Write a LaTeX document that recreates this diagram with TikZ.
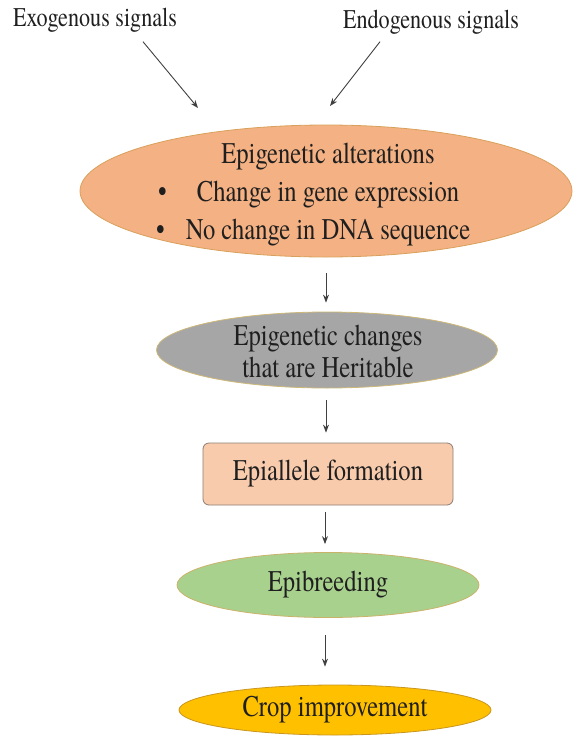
\documentclass[tikz,border=0pt]{standalone}
\usepackage{fontspec}
\setmainfont{TeX Gyre Termes}
\usepackage{graphicx}
\usepackage{xcolor}
\usepackage{tikz}
\usetikzlibrary{shapes.geometric, positioning, arrows.meta}

\definecolor{altfill}{HTML}{F4B183}
\definecolor{altline}{HTML}{D9A05B}
\definecolor{herfill}{HTML}{A6A6A6}
\definecolor{herline}{HTML}{CDB878}
\definecolor{epafill}{HTML}{F8CBAD}
\definecolor{epaline}{HTML}{8E7C72}
\definecolor{brdfill}{HTML}{A9D18E}
\definecolor{brdline}{HTML}{C9B36A}
\definecolor{cropfill}{HTML}{FFC000}
\definecolor{cropline}{HTML}{C8961E}

% narrow text, as in the figure
\newcommand{\narrow}[1]{\scalebox{0.82}[1]{#1}}

\begin{document}
\begin{tikzpicture}[x=1pt, y=-1pt, >={Stealth[length=8pt, width=6pt]},
    every node/.style={font=\fontsize{30}{38}\selectfont, text=black!88},
    blob/.style={ellipse, draw, line width=0.8pt, inner sep=0pt},
    txt/.style={align=center, inner sep=0pt},
    flow/.style={->, line width=0.9pt, draw=black!75},
    signal/.style={font=\fontsize{27}{32}\selectfont}]
    \useasboundingbox (0,0) rectangle (579,737);

    \node[signal] (exo) at (95,20) {\narrow{Exogenous signals}};
    \node[signal] (endo) at (431,22) {\narrow{Endogenous signals}};
    \coordinate (exoend) at (198,108);
    \coordinate (endoend) at (330,106);

    \node[blob, fill=altfill, draw=altline, minimum width=492pt, minimum height=132pt] (alter) at (326,191) {};
    \node[txt] (altertext) at (328,195) {\narrow{Epigenetic alterations}\\
        \llap{\narrow{\textbullet}\hspace{30pt}}\narrow{Change in gene expression}\\
        \llap{\narrow{\textbullet}\hspace{21pt}}\narrow{No change in DNA sequence}};
    \node[blob, fill=herfill, draw=herline, minimum width=341pt, minimum height=76pt] (herit) at (327,350) {};
    \node[txt, font=\fontsize{30}{32}\selectfont] (herittext) at (328,351) {\narrow{Epigenetic changes}\\ \narrow{that are Heritable}};
    \node[rectangle, rounded corners=6pt, draw=epaline, fill=epafill, line width=0.8pt,
          minimum width=250pt, minimum height=62pt] (epial) at (328,474) {\narrow{Epiallele formation}};
    \node[blob, fill=brdfill, draw=brdline, minimum width=302pt, minimum height=65pt] (breed) at (328,585) {\narrow{Epibreeding}};
    \node[blob, fill=cropfill, draw=cropline, minimum width=312pt, minimum height=50pt] (crop) at (335,710) {\narrow{Crop improvement}};

    \draw[flow] ([xshift=48pt, yshift=-6pt]exo.south) -- (exoend);
    \draw[flow] ([xshift=-51pt, yshift=-4pt]endo.south) -- (endoend);

    \path (alter.south) edge[flow, shorten <=16pt, shorten >=9pt] (alter.south |- herit.north)
          ([xshift=-1pt]herit.south) edge[flow, shorten <=12pt, shorten >=10pt] ([xshift=-1pt]herit.south |- epial.north)
          ([xshift=-3pt]epial.south) edge[flow, shorten <=7pt, shorten >=8pt] ([xshift=-3pt]epial.south |- breed.north)
          ([xshift=-3pt]breed.south) edge[flow, shorten <=17pt, shorten >=18pt] ([xshift=-3pt]breed.south |- crop.north);
\end{tikzpicture}
\end{document}
